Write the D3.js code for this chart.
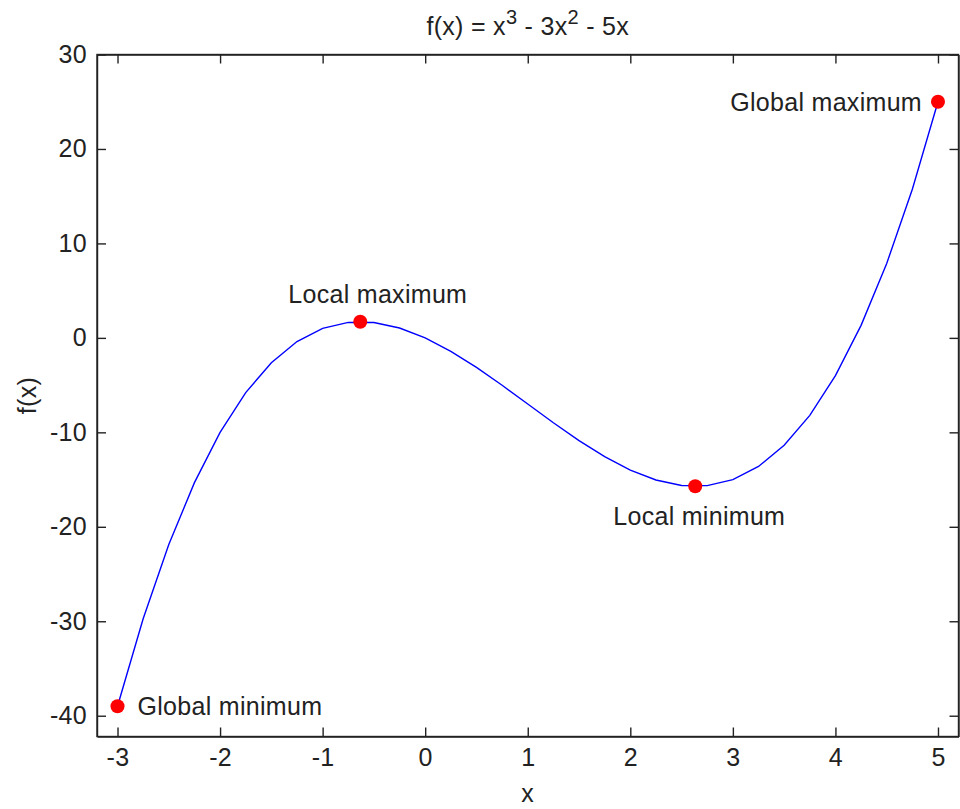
<!DOCTYPE html>
<html>
<head>
<meta charset="utf-8">
<script src="https://cdn.jsdelivr.net/npm/d3@7"></script>
<style>
  body { margin: 0; background: #fff; }
  svg text { font-family: "Liberation Sans", Arial, sans-serif; fill: #222; letter-spacing: 0.3px; }
</style>
</head>
<body>
<div id="chart"></div>
<script>
// sampled curve f(x) = x^3 - 3x^2 - 5x, step 0.25
const xs = [-3, -2.75, -2.5, -2.25, -2, -1.75, -1.5, -1.25, -1, -0.75, -0.5, -0.25,
            0, 0.25, 0.5, 0.75, 1, 1.25, 1.5, 1.75, 2, 2.25, 2.5, 2.75,
            3, 3.25, 3.5, 3.75, 4, 4.25, 4.5, 4.75, 5];
const ys = [-39, -29.734, -21.875, -15.328, -10, -5.797, -2.625, -0.391, 1, 1.641, 1.625, 1.047,
            0, -1.422, -3.125, -5.016, -7, -8.984, -10.875, -12.578, -14, -15.047, -15.625, -15.641,
            -15, -13.609, -11.375, -8.203, -4, 1.328, 7.875, 15.734, 25];

// marked extrema
const pointLabels = ["Global minimum", "Local maximum", "Local minimum", "Global maximum"];
const pointX = [-3, -0.633, 2.633, 5];
const pointY = [-39, 1.709, -15.709, 25];

const xTicks = [-3, -2, -1, 0, 1, 2, 3, 4, 5];
const yTicks = [-40, -30, -20, -10, 0, 10, 20, 30];

const W = 960, H = 809;
const plot = { left: 97, right: 958.5, top: 54.5, bottom: 736.5 };
const fs = 25;

const svg = d3.select("#chart").append("svg")
    .attr("width", W)
    .attr("height", H);

const x = d3.scaleLinear().domain([-3.2, 5.2]).range([plot.left, plot.right]);
const y = d3.scaleLinear().domain([-42.2, 30]).range([plot.bottom, plot.top]);

const tickLen = 9;
const fmt = d => String(d);  // plain hyphen minus like the original

// axes, ticks inward on all four sides
svg.append("g")
    .attr("transform", `translate(0,${plot.bottom})`)
    .call(d3.axisBottom(x).tickValues(xTicks).tickFormat(fmt).tickSizeInner(-tickLen).tickSizeOuter(0).tickPadding(12))
    .call(g => g.selectAll("text").attr("font-size", fs).attr("dy", "0.71em"));

svg.append("g")
    .attr("transform", `translate(0,${plot.top})`)
    .call(d3.axisTop(x).tickValues(xTicks).tickSizeInner(-tickLen).tickSizeOuter(0).tickFormat(""));

svg.append("g")
    .attr("transform", `translate(${plot.left},0)`)
    .call(d3.axisLeft(y).tickValues(yTicks).tickFormat(fmt).tickSizeInner(-tickLen).tickSizeOuter(0).tickPadding(10))
    .call(g => g.selectAll("text").attr("font-size", fs));

svg.append("g")
    .attr("transform", `translate(${plot.right},0)`)
    .call(d3.axisRight(y).tickValues(yTicks).tickSizeInner(-tickLen).tickSizeOuter(0).tickFormat(""));

svg.selectAll(".domain").attr("stroke", "#222").attr("stroke-width", 1.4);
svg.selectAll(".tick line").attr("stroke", "#222").attr("stroke-width", 1.4);
svg.selectAll(".tick text").attr("fill", "#222").attr("font-family", "Liberation Sans, Arial, sans-serif");

// box frame
svg.append("rect")
    .attr("x", plot.left).attr("y", plot.top)
    .attr("width", plot.right - plot.left).attr("height", plot.bottom - plot.top)
    .attr("fill", "none").attr("stroke", "#222").attr("stroke-width", 1.4);

// curve
const line = d3.line()
    .x((d, i) => x(xs[i]))
    .y(d => y(d));

svg.append("path")
    .datum(ys)
    .attr("fill", "none")
    .attr("stroke", "#0000ff")
    .attr("stroke-width", 1.4)
    .attr("d", line);

// points
svg.selectAll(".pt")
    .data(pointX)
    .enter().append("circle")
    .attr("class", "pt")
    .attr("cx", d => x(d))
    .attr("cy", (d, i) => y(pointY[i]))
    .attr("r", 7)
    .attr("fill", "#ff0000");

// point labels, offsets in px from the point
const offX = [20, -72, -82, -16];
const offY = [9, -19, 39, 9];
const anchors = ["start", "start", "start", "end"];

svg.selectAll(".lbl")
    .data(pointLabels)
    .enter().append("text")
    .attr("class", "lbl")
    .attr("x", (d, i) => x(pointX[i]) + offX[i])
    .attr("y", (d, i) => y(pointY[i]) + offY[i])
    .attr("text-anchor", (d, i) => anchors[i])
    .attr("font-size", fs)
    .text(d => d);

// title with superscripts
const title = svg.append("text")
    .attr("x", (plot.left + plot.right) / 2)
    .attr("y", 35)
    .attr("text-anchor", "middle")
    .attr("font-size", fs);
title.append("tspan").text("f(x) = x");
title.append("tspan").attr("font-size", 20).attr("dy", -11).text("3");
title.append("tspan").attr("dy", 11).text(" - 3x");
title.append("tspan").attr("font-size", 20).attr("dy", -11).text("2");
title.append("tspan").attr("dy", 11).text(" - 5x");

// axis labels
svg.append("text")
    .attr("x", (plot.left + plot.right) / 2)
    .attr("y", 802)
    .attr("text-anchor", "middle")
    .attr("font-size", fs)
    .text("x");

svg.append("text")
    .attr("transform", `translate(36,${(plot.top + plot.bottom) / 2}) rotate(-90)`)
    .attr("text-anchor", "middle")
    .attr("font-size", fs)
    .text("f(x)");
</script>
</body>
</html>
